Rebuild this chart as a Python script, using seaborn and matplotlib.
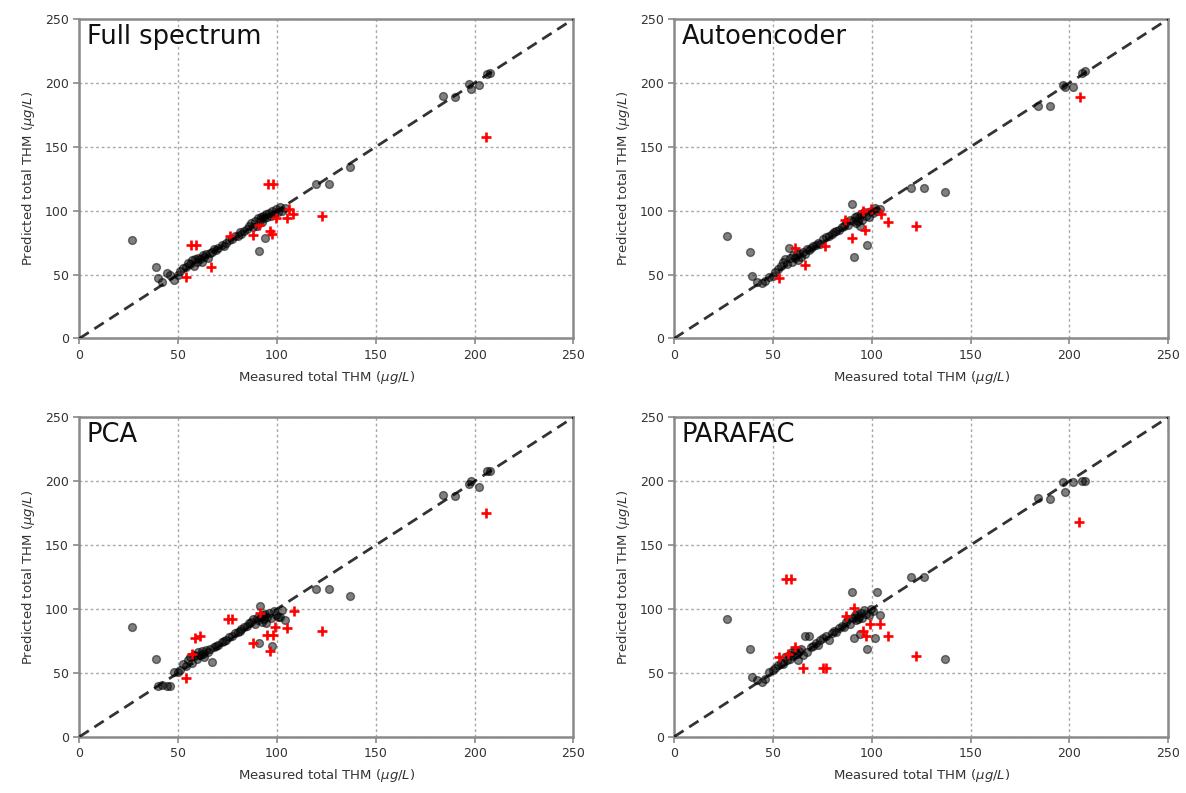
import matplotlib
matplotlib.use("Agg")
import matplotlib.pyplot as plt
import seaborn as sns
import pandas as pd

# ---------------- data ----------------
titles = ["Full spectrum", "Autoencoder", "PCA", "PARAFAC"]
ticks = [0, 50, 100, 150, 200, 250]
diag = [0, 250]

measured_train = [26.8, 38.5, 39.5, 42, 44.5, 46, 48, 50, 51, 52.5,
                  54, 55, 56, 57, 58, 58.5, 59.5, 60, 61, 62,
                  62.5, 63, 64, 65, 66, 67, 68, 69, 70, 72,
                  73, 74, 75.5, 77, 78.5, 80, 81, 82, 83.5, 85,
                  86, 87, 88, 89, 89.8, 90.4, 91, 91.5, 92, 92.5,
                  93, 93.5, 94, 94.5, 95, 96, 97, 97.5, 98.5, 99.5,
                  100.5, 101.5, 102.5, 104, 119.7, 126.4, 137, 184, 190, 197,
                  198, 202, 206.5, 208]

pred_full = [77, 56, 47, 44.5, 51, 49.5, 46, 50, 53, 55,
             56, 59, 58, 61, 57, 62, 60, 63, 62, 60,
             65, 64, 66, 63, 67, 68, 70, 69, 71, 73,
             72, 75, 77, 78, 80, 80, 83, 82, 84, 86,
             88, 90, 87, 92, 88, 94, 68.5, 93, 95, 91,
             96, 94, 78.5, 97, 95, 98, 96, 100, 97, 101,
             99, 103, 100, 102, 120.5, 121, 134, 190, 189, 199,
             195, 198, 207, 208]

pred_ae = [80, 68, 49, 44.5, 43, 45, 48, 49, 52, 54,
           57, 60, 62, 58, 71, 63, 60, 65, 63, 66,
           61, 67, 64, 68, 66, 70, 69, 71, 72, 73,
           75, 74, 78, 79, 80, 82, 83, 84, 85, 87,
           88, 91, 89, 93, 105.5, 92, 64, 95, 90, 96,
           92, 94, 88, 97, 93, 99, 96, 73.5, 95, 100,
           98, 102, 100, 101, 118, 118, 115, 182, 182, 198,
           197, 197, 208, 209]

pred_pca = [86, 61, 40, 40.5, 40, 39.5, 50.5, 51, 52, 57,
            55, 60, 62, 58, 64, 63, 61, 66, 64, 67,
            65, 62, 68, 66, 69, 58.5, 70, 71, 72, 74,
            75, 76, 78, 79, 81, 82, 83, 84, 86, 87,
            89, 90, 92, 88, 93, 91, 73, 102.5, 94, 90,
            95, 92, 96, 89, 94, 97, 93, 71, 98, 95,
            94, 94, 99, 91, 115.5, 115.5, 110, 189, 188.5, 198,
            200, 195.5, 208, 208]

pred_parafac = [92.5, 69, 46.5, 44, 42.5, 45, 50.5, 52, 54, 56,
                58, 57, 62, 60, 64, 61, 66, 63, 68, 65,
                60, 67, 69, 64, 78.5, 66, 79, 70, 71, 73,
                72, 76, 77, 79, 75.5, 81, 83, 82, 85, 87,
                86, 90, 92, 88, 113, 93, 77, 95, 91, 96,
                92, 94, 80, 97, 93, 99, 96, 69, 95, 100,
                98, 77, 113, 95, 125, 125, 61, 186.5, 186, 199.5,
                191.5, 199, 200, 200]

test_x_full = [53.8, 56.6, 59.2, 66.4, 76.1, 87.6, 90.8, 95.5, 96.3, 97.2,
               98.0, 99.7, 104.8, 106.0, 108.2, 122.5, 205.5]
test_y_full = [47.7, 73, 73, 56, 80, 81, 88.5, 121, 84, 82,
               121, 94, 94, 101.5, 97.5, 96, 158]

test_x_ae = [53.2, 60.9, 66.3, 76.1, 86.6, 90.1, 95.5, 96.3, 99.7, 104.8,
             108.2, 122.2, 205.4]
test_y_ae = [47, 71, 57.5, 72, 93, 78.5, 99.5, 85, 101.5, 97,
             91, 88, 189]

test_x_pca = [53.8, 57.0, 58.3, 61.2, 75.2, 77.4, 87.6, 91.3, 94.7, 96.3,
              98.0, 98.9, 104.8, 108.7, 122.5, 205.6]
test_y_pca = [46, 65, 77, 78.5, 92.5, 92.5, 73.5, 96.5, 79.5, 67,
              79.5, 85.5, 85, 98.5, 83, 175]

test_x_parafac = [53.2, 56.6, 57.5, 59.2, 60.9, 65.4, 75.2, 76.9, 87.1, 91.0,
                  95.5, 97.2, 99.2, 104.3, 108.2, 122.5, 204.7]
test_y_parafac = [62, 123.5, 64.5, 123.5, 70, 54, 53.5, 53.5, 94.5, 100.5,
                  83, 79, 88, 88, 79, 63, 168]

preds_train = [pred_full, pred_ae, pred_pca, pred_parafac]
tests = [(test_x_full, test_y_full), (test_x_ae, test_y_ae),
         (test_x_pca, test_y_pca), (test_x_parafac, test_y_parafac)]

# ---------------- plot ----------------
sns.set_style("white")
plt.rcParams['font.family'] = ['DejaVu Sans']

fig, axes = plt.subplots(2, 2, figsize=(11.86, 7.93), dpi=100)
fig.subplots_adjust(left=0.067, right=0.985, top=0.976, bottom=0.071,
                    wspace=0.204, hspace=0.247)

spine_col = "#8a8a8a"
for ax, title, ptrain, (tx, ty) in zip(axes.flat, titles, preds_train, tests):
    df_tr = pd.DataFrame({"m": measured_train, "p": ptrain})
    df_te = pd.DataFrame({"m": tx, "p": ty})
    ax.set_axisbelow(True)
    ax.grid(True, linestyle=(0, (2, 2)), color="#a8a8a8", linewidth=1.0)
    sns.scatterplot(data=df_tr, x="m", y="p", ax=ax, color="black",
                    alpha=0.5, s=32, edgecolor="black", linewidth=1.0,
                    zorder=3)
    sns.scatterplot(data=df_te, x="m", y="p", ax=ax, color="red",
                    marker="+", s=58, linewidth=1.9, zorder=4)
    ax.plot(diag, diag, linestyle=(0, (4, 2.4)), color="black",
            linewidth=2.0, alpha=0.8, zorder=5)
    ax.set_xlim(0, 250)
    ax.set_ylim(0, 250)
    ax.set_xticks(ticks)
    ax.set_yticks(ticks)
    ax.tick_params(axis="both", which="both", labelsize=9, length=4,
                   width=1.2, color=spine_col, labelcolor="#333333",
                   direction="out", bottom=True, left=True)
    for sp in ax.spines.values():
        sp.set_color(spine_col)
        sp.set_linewidth(1.8)
    ax.set_xlabel("Measured total THM ($\\mu g/L$)", fontsize=9.5,
                  color="#333333", labelpad=5)
    ax.set_ylabel("Predicted total THM ($\\mu g/L$)", fontsize=9.5,
                  color="#333333", labelpad=6)
    ax.text(0.015, 0.985, title, transform=ax.transAxes, fontsize=18.5,
            va="top", ha="left", color="#111111", zorder=6)

fig.savefig("out.png", dpi=100)
